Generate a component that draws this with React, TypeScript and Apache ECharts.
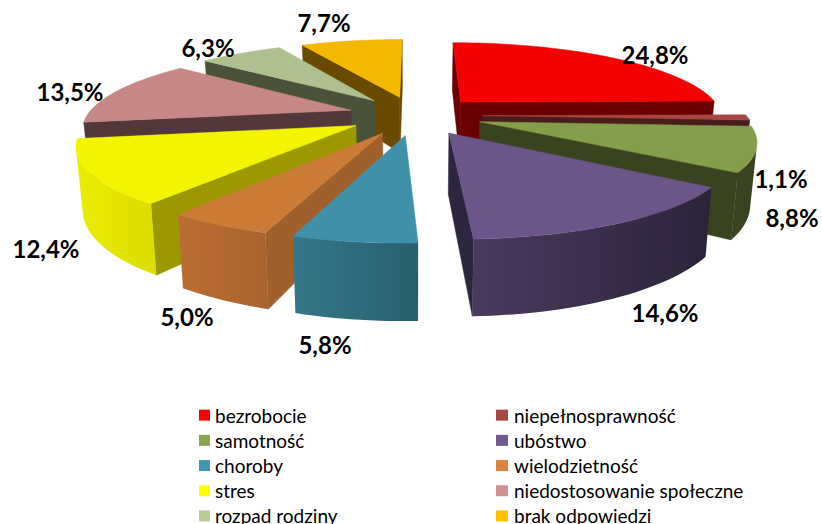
import React, { useEffect, useRef } from "react";
import * as echarts from "echarts";

const categories = ["bezrobocie", "niepełnosprawność", "samotność", "ubóstwo", "choroby", "wielodzietność", "stres", "niedostosowanie społeczne", "rozpad rodziny", "brak odpowiedzi"];
const values = [24.8, 1.1, 8.8, 14.6, 5.8, 5.0, 12.4, 13.5, 6.3, 7.7];
const legendColors = ["#ff0000", "#a94543", "#8ba64f", "#715990", "#4398b1", "#dc843e", "#ffff00", "#d09190", "#b8cc98", "#ffc000"];
const topColors = ["#f40000", "#a94543", "#859e4b", "#6b5589", "#3f91aa", "#cd7c38", "#f4f400", "#c68786", "#aec08f", "#f4b800"];
const cutColors = ["#6a0000", "#4a1c1c", "#3a4320", "#2e2640", "#2a6070", "#a0602c", "#9c9900", "#533839", "#4a523a", "#6a4a00"];
const wallColors = [["#6a0000", "#6a0000"], ["#4a1c1c", "#4a1c1c"], ["#3a4320", "#3a4320"], ["#4a3a5e", "#2c2338"], ["#34788a", "#285f6e"], ["#bb6e33", "#a8632c"], ["#ecec00", "#dcdc00"], ["#533839", "#533839"], ["#4a523a", "#4a523a"], ["#6a4a00", "#6a4a00"]];
const labelSpots = [[655, 54], [781, 178], [792, 217], [665, 312], [325, 344], [187, 316], [46, 248], [70, 91], [208, 47], [324, 22]];

// camera model of the 3-D pie
const CAM = { px: 415, yh: -260, A: 1300, B: 1850, D: 4.93, cx: 0, explode: 0.255, R: 1, sx: 0.02, sy: 0.155 };

type P = [number, number];
const total = values.reduce((a, b) => a + b, 0);
const starts: number[] = [];
values.reduce((acc, v, i) => { starts[i] = (acc / total) * Math.PI * 2; return acc + v; }, 0);

function project(X: number, Y: number, level: number): P {
  const Z = CAM.D + Y;
  return [CAM.px + (CAM.A * (1 - CAM.sx * level) * X) / Z, CAM.yh + (CAM.B * (1 + CAM.sy * level)) / Z];
}
function area(pts: P[]) {
  let s = 0;
  pts.forEach((p, i) => { const q = pts[(i + 1) % pts.length]; s += p[0] * q[1] - q[0] * p[1]; });
  return s;
}
function renderSlice(i: number) {
  const a0 = starts[i];
  const a1 = a0 + (values[i] / total) * Math.PI * 2;
  const mid = (a0 + a1) / 2;
  const ox = CAM.cx + CAM.explode * Math.sin(mid);
  const oy = CAM.explode * Math.cos(mid);
  const pt = (a: number, r: number, lv: number) => project(ox + r * Math.sin(a), oy + r * Math.cos(a), lv);
  const n = Math.max(2, Math.ceil((a1 - a0) / 0.03));
  const angs = Array.from({ length: n + 1 }, (_, k) => a0 + ((a1 - a0) * k) / n);
  const children: any[] = [];
  const poly = (points: P[], fill: any) => children.push({ type: "polygon", shape: { points }, style: { fill, stroke: fill instanceof echarts.graphic.LinearGradient ? undefined : fill, lineWidth: 0.5 } });
  const startCut: P[] = [pt(0, 0, 0), pt(a0, CAM.R, 0), pt(a0, CAM.R, 1), pt(0, 0, 1)];
  const endCut: P[] = [pt(a1, CAM.R, 0), pt(0, 0, 0), pt(0, 0, 1), pt(a1, CAM.R, 1)];
  if (area(startCut) < 0) poly(startCut, cutColors[i]);
  if (area(endCut) < 0) poly(endCut, cutColors[i]);
  const upper: P[] = [];
  const lower: P[] = [];
  for (let k = 0; k < n; k++) {
    const q: P[] = [pt(angs[k], CAM.R, 0), pt(angs[k + 1], CAM.R, 0), pt(angs[k + 1], CAM.R, 1), pt(angs[k], CAM.R, 1)];
    if (area(q) < 0) {
      if (!upper.length) { upper.push(q[0]); lower.push(q[3]); }
      upper.push(q[1]);
      lower.push(q[2]);
    }
  }
  if (upper.length > 1) {
    const [c1, c2] = wallColors[i];
    poly(upper.concat(lower.reverse()), new echarts.graphic.LinearGradient(0, 0, 1, 0, [{ offset: 0, color: c1 }, { offset: 1, color: c2 }]));
  }
  poly([pt(0, 0, 0), ...angs.map((a) => pt(a, CAM.R, 0))], topColors[i]);
  return { type: "group", children };
}

const paintOrder = values.map((_, i) => i).sort((p, q) => {
  const m = (i: number) => Math.cos(starts[i] + (values[i] / total) * Math.PI);
  return m(q) - m(p);
});

const pctText = (v: number) => `${v.toFixed(1).replace(".", ",")}%`;
const legendBase = { orient: "vertical", selectedMode: false, icon: "rect", itemHeight: 11, itemGap: 4.9, top: 405, height: 140, padding: 0 };
const legendText = { fontFamily: "Lato", fontSize: 19, color: "#000", lineHeight: 20.3 };

export default function App() {
  const ref = useRef<HTMLDivElement>(null);
  useEffect(() => {
    const chart = echarts.init(ref.current!, undefined, { renderer: "svg" });
    chart.setOption({
      animation: false,
      backgroundColor: "#fff",
      legend: [
        { ...legendBase, left: 199, itemWidth: 11, data: categories.filter((_, i) => i % 2 === 0), textStyle: { ...legendText, padding: [0, 0, 0, 0] } },
        { ...legendBase, left: 496, itemWidth: 12, data: categories.filter((_, i) => i % 2 === 1), textStyle: { ...legendText, padding: [0, 0, 0, 1] } },
      ],
      series: paintOrder.map((i) => ({
        type: "custom",
        name: categories[i],
        coordinateSystem: "none",
        silent: true,
        clip: false,
        itemStyle: { color: legendColors[i] },
        data: [[values[i]]],
        renderItem: () => renderSlice(i),
      })),
      graphic: values.map((v, i) => ({
        type: "text",
        x: labelSpots[i][0],
        y: labelSpots[i][1],
        z: 100,
        style: { text: pctText(v), fontFamily: "Lato", fontWeight: 700, fontSize: 24, fill: "#000", align: "center", verticalAlign: "middle" },
      })),
    });
    return () => chart.dispose();
  }, []);
  return <div ref={ref} style={{ position: "fixed", left: 0, top: 0, width: 822, height: 524 }} />;
}
